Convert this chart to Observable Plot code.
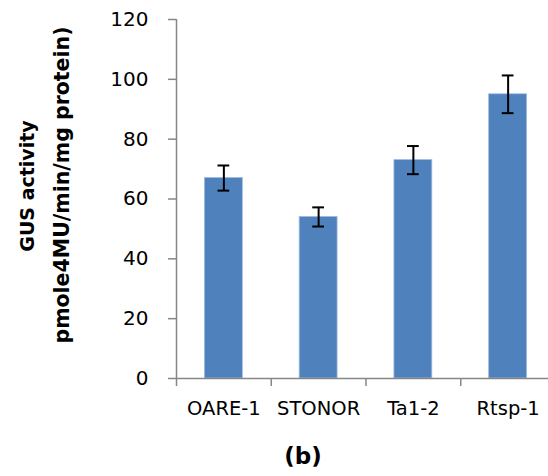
<!DOCTYPE html>
<html>
<head>
<meta charset="utf-8">
<script src="https://cdn.jsdelivr.net/npm/d3@7"></script>
<script src="https://cdn.jsdelivr.net/npm/@observablehq/plot@0.6"></script>
<style>
  html, body { margin: 0; padding: 0; background: #fff; }
</style>
</head>
<body>
<div id="chart"></div>
<script>
const categories = ["OARE-1", "STONOR", "Ta1-2", "Rtsp-1"];
const values = [67, 54, 73, 95];
const errors = [4.2, 3.2, 4.7, 6.3];
const yTicks = [0, 20, 40, 60, 80, 100, 120];
const yTitle1 = "GUS activity";
const yTitle2 = "pmole4MU/min/mg protein)";
const panelLabel = "(b)";

const data = categories.map((c, i) => ({ c, i, v: values[i], e: errors[i] }));
const gray = "#868686";
const capHalf = 0.062;

const chart = Plot.plot({
  width: 548,
  height: 476,
  marginLeft: 176,
  marginRight: 0,
  marginTop: 19,
  marginBottom: 98,
  style: { fontFamily: "DejaVu Sans", color: "#000", background: "#fff", overflow: "visible" },
  x: { type: "linear", domain: [0, 4], range: [176, 555] },
  y: { domain: [0, 120] },
  marks: [
    Plot.rectY(data, { x1: d => d.i + 0.3, x2: d => d.i + 0.7, y1: 0, y2: "v", fill: "#4F81BD", stroke: "#9dbbe2", strokeWidth: 0.8 }),
    Plot.ruleX(data, { x: d => d.i + 0.5, y1: d => d.v - d.e, y2: d => d.v + d.e, stroke: "#000", strokeWidth: 2 }),
    Plot.ruleY(data, { y: d => d.v + d.e, x1: d => d.i + 0.5 - capHalf, x2: d => d.i + 0.5 + capHalf, stroke: "#000", strokeWidth: 2 }),
    Plot.ruleY(data, { y: d => d.v - d.e, x1: d => d.i + 0.5 - capHalf, x2: d => d.i + 0.5 + capHalf, stroke: "#000", strokeWidth: 2 }),
    Plot.ruleX([0], { stroke: gray, strokeWidth: 1.5 }),
    Plot.ruleY([0], { stroke: gray, strokeWidth: 1.5 }),
    Plot.axisY(yTicks, { tickSize: 8, tickPadding: 20, stroke: gray, strokeWidth: 1.5, fill: "#000", fontSize: 20, label: null }),
    Plot.axisX(d3.range(categories.length + 1), { tickSize: 8, tickFormat: () => "", stroke: gray, strokeWidth: 1.5, label: null }),
    Plot.axisX(data.map(d => d.i + 0.5), { tickSize: 0, tickPadding: 23, tickFormat: d => categories[Math.floor(d)], fill: "#000", fontSize: 19.5, label: null }),
    Plot.text([yTitle1], { frameAnchor: "left", rotate: -90, dx: -149, dy: -13, textAnchor: "middle", lineAnchor: "middle", fontWeight: "bold", fontSize: 19, fill: "#000" }),
    Plot.text([yTitle2], { frameAnchor: "left", rotate: -90, dx: -114, dy: -14, textAnchor: "middle", lineAnchor: "middle", fontWeight: "bold", fontSize: 20.5, fill: "#000" }),
    Plot.text([panelLabel], { frameAnchor: "bottom", dx: -59.5, dy: 85, textAnchor: "middle", lineAnchor: "bottom", fontWeight: "bold", fontSize: 23, fill: "#000" })
  ]
});
document.getElementById("chart").appendChild(chart);
</script>
</body>
</html>
